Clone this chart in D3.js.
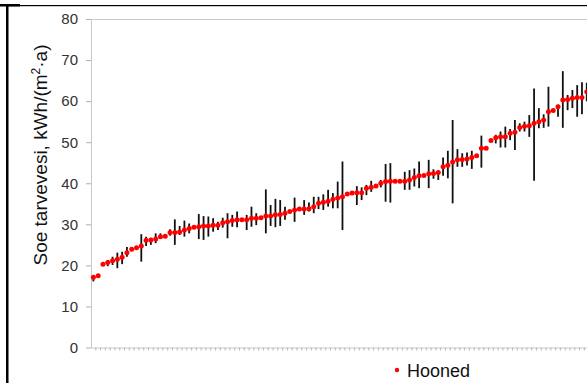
<!DOCTYPE html>
<html>
<head>
<meta charset="utf-8">
<script src="https://cdn.jsdelivr.net/npm/d3@7"></script>
<style>
  body { margin: 0; background: #fff; }
  svg { display: block; font-family: "Liberation Sans", Arial, sans-serif; }
</style>
</head>
<body>
<svg id="chart" width="587" height="383"></svg>
<script>
// building energy need (sorted), with min / max of the error bars
const energy = [17.1,17.5,20.3,20.7,21.1,21.5,22.0,23.1,23.9,24.3,
  24.7,26.1,26.2,26.4,27.0,27.1,28.0,28.0,28.1,28.6,
  29.0,29.3,29.4,29.6,29.6,29.8,29.8,30.4,30.6,30.9,
  31.1,31.1,31.1,31.5,31.5,31.6,32.0,32.0,32.3,32.4,
  32.7,33.1,33.5,33.7,33.7,33.8,34.3,35.1,35.4,35.6,
  36.1,36.4,36.7,37.4,37.6,37.7,37.7,38.8,39.0,39.3,
  40.0,40.4,40.5,40.5,40.5,40.5,40.8,41.4,41.8,41.9,
  42.3,42.4,42.6,44.0,44.4,45.2,45.7,45.8,45.9,46.3,
  46.7,48.5,48.5,50.4,51.1,51.3,51.3,52.2,52.4,53.6,
  53.9,54.0,54.6,55.0,55.4,57.4,57.7,58.6,60.3,60.4,
  60.7,60.9,60.9,62.3];

const lowVal = [16.1,null,null,19.8,20.1,19.3,20.3,22.1,null,null,
  20.9,24.7,25.0,25.4,26.6,null,27.2,25.0,27.4,27.0,
  27.8,null,26.4,26.2,27.0,28.2,28.6,29.2,26.6,29.4,
  29.3,null,28.6,29.4,29.8,null,27.8,29.6,29.3,29.6,
  31.1,null,30.6,null,32.3,33.1,32.7,33.7,33.5,34.3,
  33.9,33.9,28.6,null,null,34.7,35.9,37.1,37.9,null,
  39.0,35.5,35.3,null,null,38.4,38.4,39.2,38.8,null,
  38.8,41.1,40.8,41.8,41.2,35.1,44.0,44.0,44.3,43.5,
  null,43.8,null,null,49.7,48.7,48.7,50.5,48.1,52.6,
  52.6,51.3,40.6,53.4,53.5,53.8,null,56.2,53.5,57.8,
  58.3,56.2,56.8,60.0];

const highVal = [17.6,null,null,21.3,22.1,23.1,23.3,24.5,null,null,
  27.6,27.0,26.7,27.8,27.8,null,28.8,31.2,29.6,30.9,
  30.2,null,32.5,32.0,31.9,31.5,30.6,31.6,32.7,32.3,
  33.1,null,32.3,34.3,32.7,null,38.5,34.7,36.2,35.9,
  34.3,null,36.5,null,35.9,35.3,36.7,36.7,37.3,38.4,
  37.6,40.4,45.3,null,null,39.3,39.0,39.6,40.6,null,
  40.8,44.7,44.9,null,null,42.8,43.2,43.6,45.3,null,
  45.7,43.4,43.1,46.3,47.9,55.4,48.3,47.3,47.5,47.9,
  null,51.6,null,null,51.8,52.6,53.8,53.2,55.4,54.6,
  55.0,56.6,63.1,58.3,56.8,63.5,null,59.1,67.3,61.5,
  62.7,63.9,64.6,64.5];

const buildings = energy.map((d, i) => i + 1);
const yTicks = [0, 10, 20, 30, 40, 50, 60, 70, 80];
const yTitle = "Soe tarvevesi, kWh/(m";
const seriesName = "Hooned";

const svg = d3.select("#chart");
const plotLeft = 91, plotTop = 19, plotBottom = 347.5;
const step = 4.79;

const x = d3.scaleBand()
  .domain(buildings)
  .range([plotLeft, plotLeft + step * buildings.length]);

const y = d3.scaleLinear()
  .domain([0, 80])
  .range([plotBottom, plotTop]);

// frame lines of the cropped screenshot
svg.append("rect").attr("x", 6).attr("y", 5).attr("width", 2.5).attr("height", 378).attr("fill", "#000");
svg.append("rect").attr("x", 7).attr("y", 5).attr("width", 580).attr("height", 1.2).attr("fill", "#000");
svg.append("rect").attr("x", 0).attr("y", 4).attr("width", 20).attr("height", 2.5).attr("fill", "#000");

// plot top border
svg.append("line")
  .attr("x1", plotLeft).attr("x2", 587)
  .attr("y1", plotTop + 0.5).attr("y2", plotTop + 0.5)
  .attr("stroke", "#c8c8c8");

// y axis
const yAxis = svg.append("g")
  .attr("transform", `translate(${plotLeft},0)`)
  .call(d3.axisLeft(y).tickValues(yTicks).tickSize(5).tickPadding(8).tickSizeOuter(0));
yAxis.select(".domain").attr("stroke", "#c8c8c8");
yAxis.selectAll(".tick line").attr("stroke", "#b0b0b0");
yAxis.selectAll(".tick text")
  .attr("fill", "#333")
  .style("font-size", "15px");

// x axis: ticks between categories
const xAxis = svg.append("g")
  .attr("transform", `translate(0,${plotBottom})`)
  .call(d3.axisBottom(x).tickFormat("").tickSize(3).tickSizeOuter(0));
xAxis.select(".domain").attr("stroke", "#c8c8c8");
xAxis.selectAll(".tick")
  .attr("transform", d => `translate(${x(d) + x.step()},0)`);
xAxis.selectAll(".tick line").attr("stroke", "#b8b8b8");

// y title
const title = svg.append("text")
  .attr("transform", "translate(47,155) rotate(-90)")
  .attr("text-anchor", "middle")
  .attr("fill", "#111")
  .style("font-size", "19px");
title.append("tspan").text(yTitle);
title.append("tspan").attr("dy", -7).style("font-size", "12px").text("2");
title.append("tspan").attr("dy", 7).text("·a)");

// error bars
const bars = buildings
  .map((b, i) => ({ b, lo: lowVal[i], hi: highVal[i] }))
  .filter(d => d.lo != null && d.hi != null);

svg.append("g")
  .selectAll("line")
  .data(bars)
  .join("line")
  .attr("x1", d => x(d.b) + x.bandwidth() / 2)
  .attr("x2", d => x(d.b) + x.bandwidth() / 2)
  .attr("y1", d => y(d.lo))
  .attr("y2", d => y(d.hi))
  .attr("stroke", "#111")
  .attr("stroke-width", 1.8);

// points
svg.append("g")
  .selectAll("circle")
  .data(energy)
  .join("circle")
  .attr("cx", (d, i) => x(buildings[i]) + x.bandwidth() / 2)
  .attr("cy", d => y(d))
  .attr("r", 2.5)
  .attr("fill", "#ff0000");

// legend
const legend = svg.append("g").attr("transform", "translate(397,370)");
legend.append("circle").attr("r", 2.2).attr("fill", "#ff0000");
legend.append("text")
  .attr("x", 10).attr("y", 6.5)
  .attr("fill", "#111")
  .style("font-size", "18px")
  .text(seriesName);
</script>
</body>
</html>
